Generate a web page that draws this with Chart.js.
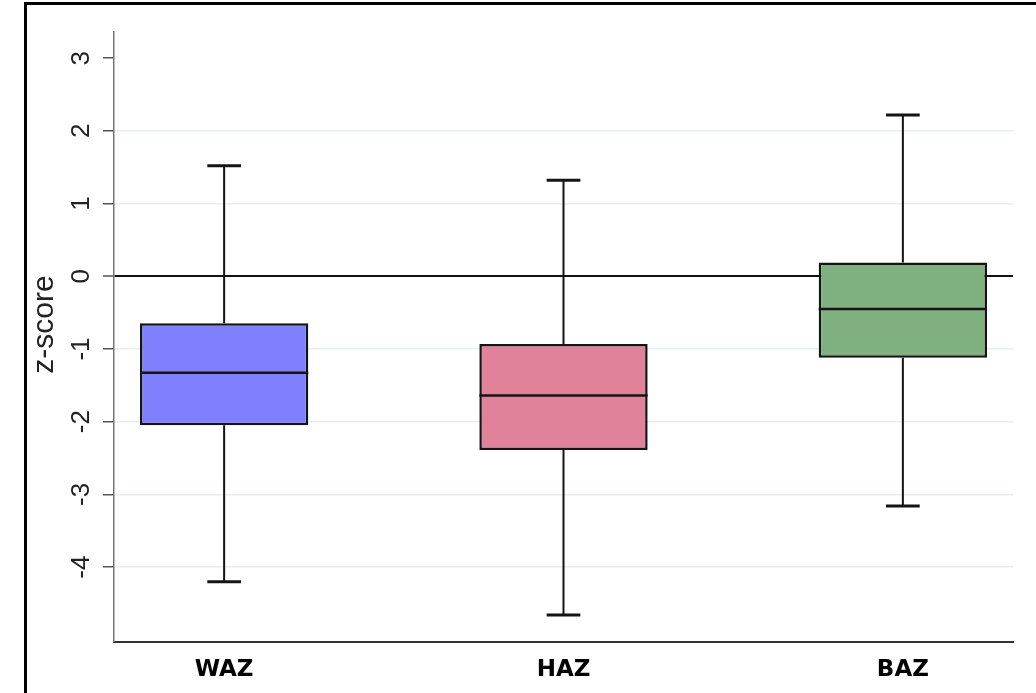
<!DOCTYPE html>
<html>
<head>
<meta charset="utf-8">
<title>z-score</title>
<script src="https://cdn.jsdelivr.net/npm/chart.js@4.4.0/dist/chart.umd.min.js"></script>
<style>
  html, body { margin: 0; padding: 0; background: #fff; }
  canvas { display: block; }
</style>
</head>
<body>
<canvas id="zChart" width="1036" height="693"></canvas>
<script>
// summary stats per indicator
const categories = ['WAZ', 'HAZ', 'BAZ'];
const lowerWhisker = [-4.20, -4.66, -3.16];
const q1 = [-2.05, -2.39, -1.12];
const median = [-1.325, -1.64, -0.45];
const q3 = [-0.645, -0.93, 0.19];
const upperWhisker = [1.52, 1.32, 2.22];
const yTicks = [-4, -3, -2, -1, 0, 1, 2, 3];
const boxColors = ['#8080ff', '#e08299', '#80b080'];

// whiskers, caps and median lines on top of the floating bars
const boxExtras = {
  id: 'boxExtras',
  afterDatasetsDraw(chart) {
    const ctx = chart.ctx;
    const y = chart.scales.y;
    const meta = chart.getDatasetMeta(0);
    ctx.save();
    ctx.strokeStyle = '#141414';
    meta.data.forEach((bar, i) => {
      const x = bar.x;
      const half = bar.width / 2;
      const cap = bar.width * 0.1;
      const yHi = y.getPixelForValue(upperWhisker[i]);
      const yLo = y.getPixelForValue(lowerWhisker[i]);
      const yQ3 = y.getPixelForValue(q3[i]);
      const yQ1 = y.getPixelForValue(q1[i]);
      const yMed = y.getPixelForValue(median[i]);

      ctx.lineWidth = 2;
      ctx.beginPath();
      ctx.moveTo(x, yQ3); ctx.lineTo(x, yHi);
      ctx.moveTo(x, yQ1); ctx.lineTo(x, yLo);
      ctx.stroke();

      ctx.lineWidth = 3;
      ctx.beginPath();
      ctx.moveTo(x - cap, yHi); ctx.lineTo(x + cap, yHi);
      ctx.moveTo(x - cap, yLo); ctx.lineTo(x + cap, yLo);
      ctx.stroke();

      ctx.lineWidth = 2.5;
      ctx.beginPath();
      ctx.moveTo(x - half, yMed); ctx.lineTo(x + half, yMed);
      ctx.stroke();
    });
    ctx.restore();
  }
};

// outer frame (top and left edges)
const frame = {
  id: 'frame',
  afterDraw(chart) {
    const ctx = chart.ctx;
    ctx.save();
    ctx.strokeStyle = '#000';
    ctx.lineWidth = 3;
    ctx.beginPath();
    ctx.moveTo(25.5, chart.height);
    ctx.lineTo(25.5, 3.5);
    ctx.lineTo(chart.width, 3.5);
    ctx.stroke();
    ctx.restore();
  }
};

new Chart(document.getElementById('zChart').getContext('2d'), {
  type: 'bar',
  data: {
    datasets: [{
      data: categories.map((c, i) => ({ x: i, y: [q1[i], q3[i]] })),
      backgroundColor: boxColors,
      borderColor: '#141414',
      borderWidth: 2.5,
      borderSkipped: false,
      categoryPercentage: 1,
      barPercentage: 0.496
    }]
  },
  options: {
    responsive: false,
    animation: false,
    devicePixelRatio: 1,
    layout: { padding: { left: 0, top: 32, right: 23, bottom: 0 } },
    plugins: {
      legend: { display: false },
      tooltip: { enabled: false }
    },
    scales: {
      x: {
        type: 'linear',
        offset: false,
        min: -0.3245,
        max: 2.3245,
        afterBuildTicks: s => { s.ticks = categories.map((c, i) => ({ value: i })); },
        afterFit: s => { s.height = 51; },
        grid: { display: false, drawTicks: false },
        border: { color: '#333', width: 2 },
        ticks: {
          padding: 14,
          maxRotation: 0,
          color: '#000',
          font: { family: 'DejaVu Sans', size: 23, weight: 'bold' },
          callback: v => categories[v]
        }
      },
      y: {
        min: -5.03,
        max: 3.36,
        afterBuildTicks: s => { s.ticks = yTicks.map(v => ({ value: v })); },
        afterFit: s => { s.width = 114; },
        grid: {
          color: c => c.tick.value === 0 ? '#111' : (c.tick.value === 3 ? 'rgba(0,0,0,0)' : '#e6eeee'),
          lineWidth: c => c.tick.value === 0 ? 2 : 1.5,
          tickColor: '#555',
          tickLength: 11,
          tickWidth: 1.5
        },
        border: { color: '#777', width: 1.5 },
        ticks: {
          minRotation: 90,
          maxRotation: 90,
          crossAlign: 'center',
          padding: 10,
          color: '#222',
          font: { family: 'Liberation Sans', size: 26 }
        },
        title: {
          display: true,
          text: '   z-score',
          color: '#222',
          padding: { top: 27, bottom: 0 },
          font: { family: 'Liberation Sans', size: 30 }
        }
      }
    }
  },
  plugins: [boxExtras, frame]
});
</script>
</body>
</html>
